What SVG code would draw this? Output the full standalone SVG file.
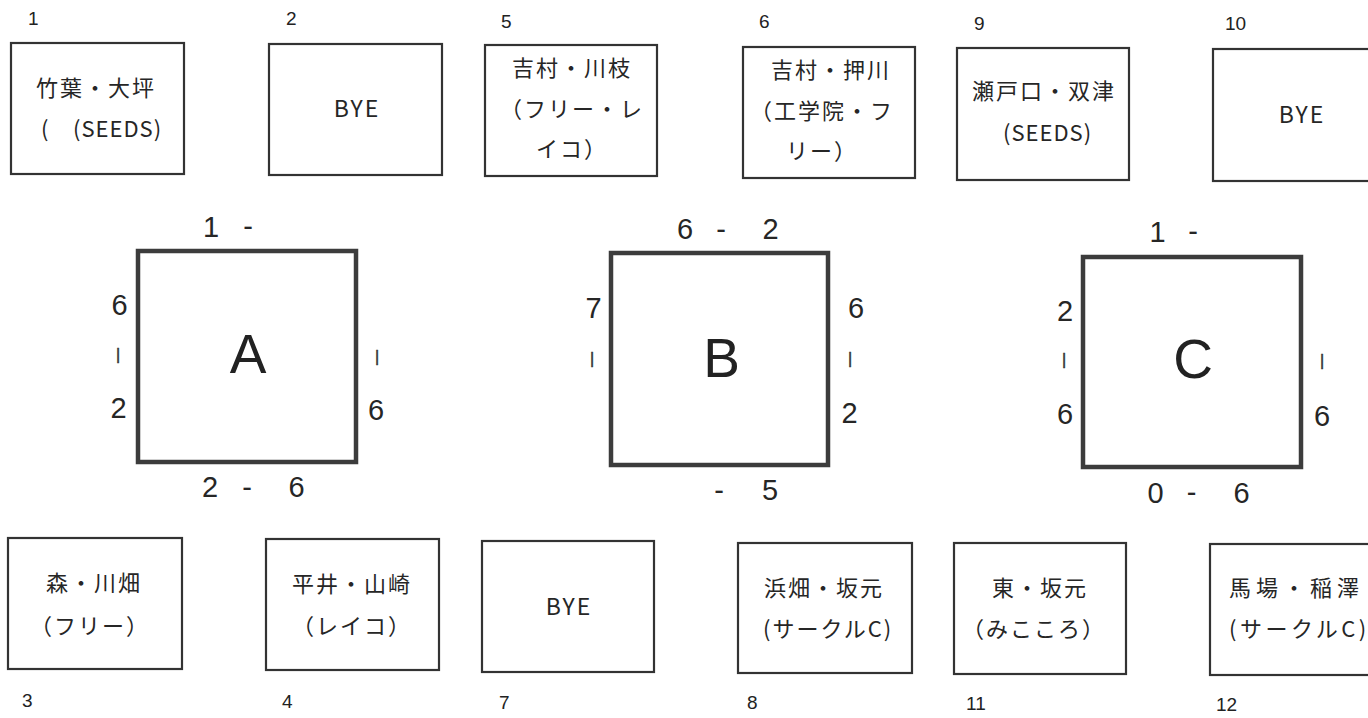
<svg xmlns="http://www.w3.org/2000/svg" width="1368" height="718" viewBox="0 0 1368 718">
<style>
  .bg { fill: #ffffff; }
  .box { fill: #ffffff; stroke: #333333; stroke-width: 2.2; }
  .court { fill: #ffffff; stroke: #3c3c3c; stroke-width: 4.5; }
  .jp { font-family: "Noto Sans CJK JP", "Noto Sans", sans-serif; font-size: 22px; fill: #262626; letter-spacing: 2px; }
  .lat { font-family: "Noto Sans CJK JP", "Noto Sans", sans-serif; font-size: 22px; fill: #262626; letter-spacing: 1px; }
  .bye { font-family: "Noto Sans CJK JP", "Noto Sans", sans-serif; font-size: 23px; fill: #262626; text-anchor: middle; letter-spacing: 2px; }
  .num { font-family: "Liberation Sans", "Noto Sans", sans-serif; font-size: 19px; fill: #222222; }
  .score { font-family: "Liberation Sans", "Noto Sans", sans-serif; font-size: 29px; fill: #262626; text-anchor: middle; }
  .bar { font-family: "Liberation Sans", "Noto Sans", sans-serif; font-size: 16px; fill: #333333; stroke: #333333; stroke-width: 0.5; text-anchor: middle; }
  .big { font-family: "Liberation Sans", "Noto Sans", sans-serif; font-size: 55px; fill: #222222; text-anchor: middle; }
</style>
<rect class="bg" x="0" y="0" width="1368" height="718"/>

<!-- top row -->
<g id="node-1">
  <text class="num" x="28" y="25">1</text>
  <rect class="box" x="11" y="43" width="173" height="131"/>
  <text class="jp" x="36" y="96">竹葉・大坪</text>
  <text class="lat" y="137"><tspan x="41">(</tspan><tspan x="73">(SEEDS)</tspan></text>
</g>
<g id="node-2">
  <text class="num" x="286" y="25">2</text>
  <rect class="box" x="269" y="44" width="173" height="131"/>
  <text class="bye" x="357" y="117">BYE</text>
</g>
<g id="node-5">
  <text class="num" x="501" y="28">5</text>
  <rect class="box" x="485" y="45" width="172" height="131"/>
  <text class="jp" x="512" y="76">吉村・川枝</text>
  <text class="jp" x="500" y="117">（フリー・レ</text>
  <text class="jp" x="536" y="157">イコ）</text>
</g>
<g id="node-6">
  <text class="num" x="759" y="28">6</text>
  <rect class="box" x="743" y="47" width="172" height="131"/>
  <text class="jp" x="771" y="78">吉村・押川</text>
  <text class="jp" x="750" y="119">（工学院・フ</text>
  <text class="jp" x="786" y="159">リー）</text>
</g>
<g id="node-9">
  <text class="num" x="974" y="30">9</text>
  <rect class="box" x="957" y="48" width="172" height="132"/>
  <text class="jp" x="972" y="99">瀬戸口・双津</text>
  <text class="lat" x="1003" y="141">(SEEDS)</text>
</g>
<g id="node-10">
  <text class="num" x="1225" y="30">10</text>
  <rect class="box" x="1213" y="49" width="170" height="132"/>
  <text class="bye" x="1302" y="123">BYE</text>
</g>

<!-- courts -->
<g id="court-A">
  <rect class="court" x="138" y="251" width="218" height="211"/>
  <text class="big" x="248" y="373">A</text>
  <text class="score" x="211" y="237">1</text>
  <text class="score" x="248" y="236">-</text>
  <text class="score" x="119.5" y="315">6</text>
  <text class="bar" x="118" y="360">|</text>
  <text class="score" x="118.5" y="418">2</text>
  <text class="bar" x="377" y="362">|</text>
  <text class="score" x="376" y="420">6</text>
  <text class="score" x="210" y="497">2</text>
  <text class="score" x="247" y="497">-</text>
  <text class="score" x="296.5" y="497">6</text>
</g>
<g id="court-B">
  <rect class="court" x="611" y="253" width="217" height="212"/>
  <text class="big" x="721.5" y="377">B</text>
  <text class="score" x="685" y="239">6</text>
  <text class="score" x="721" y="239">-</text>
  <text class="score" x="770.5" y="239">2</text>
  <text class="score" x="593.5" y="318">7</text>
  <text class="bar" x="592" y="364">|</text>
  <text class="score" x="856" y="318">6</text>
  <text class="bar" x="850" y="364">|</text>
  <text class="score" x="849.5" y="423">2</text>
  <text class="score" x="719" y="500">-</text>
  <text class="score" x="770" y="500">5</text>
</g>
<g id="court-C">
  <rect class="court" x="1083" y="257" width="218" height="210"/>
  <text class="big" x="1193" y="378">C</text>
  <text class="score" x="1157.5" y="242">1</text>
  <text class="score" x="1193" y="241">-</text>
  <text class="score" x="1065" y="321">2</text>
  <text class="bar" x="1064" y="365">|</text>
  <text class="score" x="1065" y="424">6</text>
  <text class="bar" x="1322" y="366">|</text>
  <text class="score" x="1322" y="426">6</text>
  <text class="score" x="1155.5" y="503">0</text>
  <text class="score" x="1191.5" y="502">-</text>
  <text class="score" x="1241.5" y="503">6</text>
</g>

<!-- bottom row -->
<g id="node-3">
  <rect class="box" x="8" y="538" width="174" height="131"/>
  <text class="jp" x="46" y="591">森・川畑</text>
  <text class="jp" x="30" y="634">（フリー）</text>
  <text class="num" x="22" y="707">3</text>
</g>
<g id="node-4">
  <rect class="box" x="266" y="539" width="173" height="131"/>
  <text class="jp" x="292" y="592">平井・山崎</text>
  <text class="jp" x="292" y="634">（レイコ）</text>
  <text class="num" x="282" y="708">4</text>
</g>
<g id="node-7">
  <rect class="box" x="482" y="541" width="172" height="131"/>
  <text class="bye" x="569" y="615">BYE</text>
  <text class="num" x="499" y="709">7</text>
</g>
<g id="node-8">
  <rect class="box" x="738" y="543" width="174" height="130"/>
  <text class="jp" x="764" y="596">浜畑・坂元</text>
  <text class="jp" x="763" y="637">(サークルC)</text>
  <text class="num" x="747" y="709">8</text>
</g>
<g id="node-11">
  <rect class="box" x="954" y="543" width="172" height="131"/>
  <text class="jp" x="992" y="596">東・坂元</text>
  <text class="jp" x="962" y="637">（みこころ）</text>
  <text class="num" x="966" y="710">11</text>
</g>
<g id="node-12">
  <rect class="box" x="1210" y="544" width="172" height="131"/>
  <text class="jp" x="1229" y="596" style="letter-spacing:5px">馬場・稲澤</text>
  <text class="jp" x="1229" y="637" style="letter-spacing:3.5px">(サークルC)</text>
  <text class="num" x="1216" y="711">12</text>
</g>

<g id="connectors"></g>
</svg>
